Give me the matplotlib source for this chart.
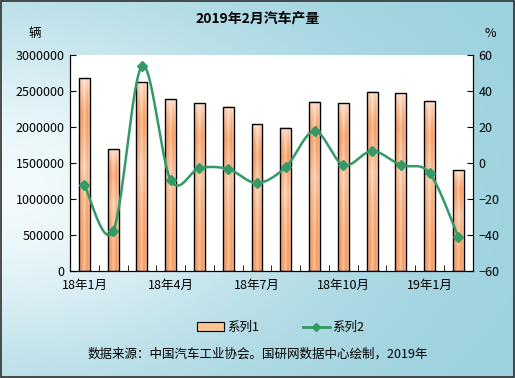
import numpy as np
import matplotlib.pyplot as plt
from matplotlib.patches import Rectangle, Patch
from matplotlib.lines import Line2D
from matplotlib.colors import LinearSegmentedColormap

plt.rcParams['font.family'] = ['Noto Sans CJK SC', 'DejaVu Sans']

# data
months = ['18年1月', '18年2月', '18年3月', '18年4月', '18年5月', '18年6月', '18年7月',
          '18年8月', '18年9月', '18年10月', '18年11月', '18年12月', '19年1月', '19年2月']
output = [2680000, 1690000, 2625000, 2390000, 2330000, 2280000, 2040000,
          1990000, 2350000, 2330000, 2490000, 2470000, 2360000, 1400000]
growth = [-12.2, -37.8, 53.9, -9.4, -2.8, -3.3, -11.1,
          -2.2, 17.8, -1.1, 6.7, -1.1, -5.6, -41.1]
shown_ticks = [0, 3, 6, 9, 12]


def smooth(x, y, n=24):
    # catmull-rom curve through the points, like a smoothed excel line
    px, py = [], []
    m = len(x)
    t = np.linspace(0, 1, n, endpoint=False)
    for i in range(m - 1):
        i0, i3 = max(i - 1, 0), min(i + 2, m - 1)
        for src, dst in ((x, px), (y, py)):
            c0, c1, c2, c3 = src[i0], src[i], src[i + 1], src[i3]
            v = 0.5 * ((2 * c1) + (-c0 + c2) * t + (2 * c0 - 5 * c1 + 4 * c2 - c3) * t ** 2
                       + (-c0 + 3 * c1 - 3 * c2 + c3) * t ** 3)
            dst.extend(v)
    px.append(x[-1])
    py.append(y[-1])
    return np.array(px), np.array(py)


fig = plt.figure(figsize=(5.15, 3.78), dpi=100)

# background gradient of the figure
bg = fig.add_axes([0, 0, 1, 1], zorder=-5)
yy, xx = np.mgrid[0:1:200j, 0:1:200j]
light = np.exp(-((xx / 0.6) ** 2) - ((yy - 0.5) / 0.5) ** 2)
top = np.array([0.61, 0.82, 0.87])
white = np.array([0.95, 0.98, 0.99])
img = top[None, None, :] * (1 - light[..., None]) + white[None, None, :] * light[..., None]
bg.imshow(img, extent=[0, 1, 0, 1], aspect='auto')
bg.set_xlim(0, 1)
bg.set_ylim(0, 1)
bg.axis('off')
bg.add_patch(Rectangle((0.001, 0.002), 0.997, 0.995, fill=False, edgecolor='#303030', lw=1.2))

ax = fig.add_axes([0.136, 0.283, 0.782, 0.571])
ax.set_facecolor('white')

x = np.arange(len(months))
w = 0.38

# gradient fill for bars
cmap = LinearSegmentedColormap.from_list('bar', ['#fdf0ee', '#fbd3b8', '#f8ae7c', '#f59a62'])
hx = np.linspace(0, 1, 40)
vy = np.linspace(0, 1, 120)
H, V = np.meshgrid(hx, vy)
d = np.abs(H - 0.5) * 2
hprof = np.interp(d, [0, 0.25, 0.5, 0.8, 1.0], [0.45, 0.7, 1.0, 0.75, 0.25])
vprof = np.interp(V, [0, 0.15, 0.4, 0.55, 0.8, 0.95, 1.0], [1.0, 1.0, 0.75, 0.55, 1.0, 0.5, 0.3])
grad = np.clip(hprof * vprof, 0, 1)
for xi, val in zip(x, output):
    ax.imshow(grad, cmap=cmap, vmin=0, vmax=1, extent=[xi - w / 2, xi + w / 2, 0, val],
              aspect='auto', zorder=2, origin='lower', interpolation='bilinear')
    ax.add_patch(Rectangle((xi - w / 2, 0), w, val, fill=False, edgecolor='black', lw=1.0, zorder=3))

ax.set_xlim(-0.5, len(months) - 0.5)
ax.set_ylim(0, 3000000)
ax.set_yticks(np.arange(0, 3000001, 500000))
ax.set_yticklabels([str(v) for v in range(0, 3000001, 500000)], fontsize=9)
ax.set_xticks(x[shown_ticks])
ax.set_xticklabels([months[i] for i in shown_ticks], fontsize=9)
ax.tick_params(axis='x', length=0, pad=6)
ax.set_xticks(np.arange(-0.5, len(months)), minor=True)
ax.tick_params(axis='x', which='minor', direction='in', length=4, color='black')
ax.tick_params(axis='y', direction='in', length=4, pad=4)
ax.spines['top'].set_visible(False)
for s in ['left', 'bottom', 'right']:
    ax.spines[s].set_color('black')

ax2 = ax.twinx()
sx, sy = smooth(x.astype(float), np.array(growth))
ax2.plot(sx, sy, color='#339966', lw=1.8, zorder=4)
ax2.plot(x, growth, ls='none', marker='D', ms=5, color='#339966', zorder=5)
ax2.set_ylim(-60, 60)
ax2.set_yticks(np.arange(-60, 61, 20))
ax2.tick_params(axis='y', direction='in', length=4, pad=4, labelsize=9)
ax2.spines['top'].set_visible(False)

fig.text(0.5, 0.952, '2019年2月汽车产量', ha='center', va='center', fontsize=10, fontweight='bold')
fig.text(0.068, 0.912, '辆', ha='center', va='center', fontsize=9)
fig.text(0.952, 0.912, '%', ha='center', va='center', fontsize=9)

handles = [Patch(facecolor='#f9c596', edgecolor='black', lw=0.8),
           Line2D([0], [0], color='#339966', lw=2, marker='D', ms=4)]
fig.legend(handles, ['系列1', '系列2'], loc='center', bbox_to_anchor=(0.545, 0.133), ncol=2,
           frameon=False, fontsize=9, handlelength=2.2, handletextpad=0.2, columnspacing=3.5)
fig.text(0.5, 0.062, '数据来源：中国汽车工业协会。国研网数据中心绘制，2019年', ha='center', va='center', fontsize=9)

fig.savefig('out.png', dpi=100)
